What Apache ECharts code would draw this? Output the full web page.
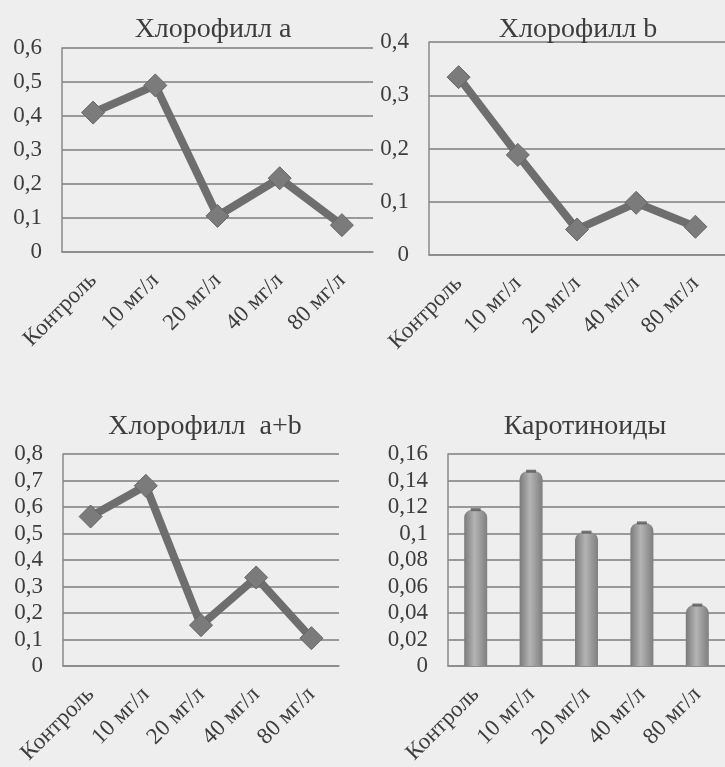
<!DOCTYPE html>
<html>
<head>
<meta charset="utf-8">
<script src="https://cdn.jsdelivr.net/npm/echarts@6/dist/echarts.min.js"></script>
<style>
html,body{margin:0;padding:0;background:#eeeeee;}
#c{width:725px;height:767px;}
</style>
</head>
<body>
<div id="c"></div>
<script>
var categories = ['Контроль', '10 мг/л', '20 мг/л', '40 мг/л', '80 мг/л'];
var chlA = [0.41, 0.49, 0.106, 0.217, 0.079];
var chlB = [0.334, 0.188, 0.048, 0.098, 0.053];
var chlAB = [0.564, 0.68, 0.154, 0.334, 0.105];
var carot = [0.118, 0.147, 0.101, 0.108, 0.046];
var titles = ['Хлорофилл a', 'Хлорофилл b', 'Хлорофилл  a+b', 'Каротиноиды'];

var FONT = '"Liberation Serif", "DejaVu Serif", serif';
var TXT = '#3d3d3d';
function fmt(v) { return String(+v.toFixed(2)).replace('.', ','); }

var grids = [
  {left: 62, top: 48, width: 311, height: 204},
  {left: 429, top: 42, width: 302, height: 213},
  {left: 63, top: 454, width: 276, height: 213},
  {left: 448, top: 454, width: 281, height: 214}
];
var yCfg = [
  {max: 0.6, interval: 0.1},
  {max: 0.4, interval: 0.1},
  {max: 0.8, interval: 0.1},
  {max: 0.16, interval: 0.02}
];
var titlePos = [[208, 11], [573, 11], [200, 408], [580, 408]];

var xAxes = [], yAxes = [], titleArr = [];
for (var i = 0; i < 4; i++) {
  xAxes.push({
    type: 'category', gridIndex: i, data: categories, boundaryGap: true,
    axisTick: {show: false},
    axisLine: {lineStyle: {color: '#8a8a8a', width: 1.5}},
    axisLabel: {rotate: 45, interval: 0, margin: 25, color: TXT, fontFamily: FONT, fontSize: 23}
  });
  yAxes.push({
    type: 'value', gridIndex: i, min: 0, max: yCfg[i].max, interval: yCfg[i].interval,
    axisLine: {show: true, lineStyle: {color: '#8a8a8a', width: 1.5}},
    axisTick: {show: false},
    splitLine: {lineStyle: {color: '#7d7d7d', width: 1.5}},
    axisLabel: {margin: 20, color: TXT, fontFamily: FONT, fontSize: 23, formatter: fmt}
  });
  titleArr.push({
    text: titles[i], left: titlePos[i][0], top: titlePos[i][1], textAlign: 'center',
    textStyle: {color: TXT, fontFamily: FONT, fontSize: 28, fontWeight: 'normal'}
  });
}

function lineSeries(idx, data) {
  return {
    type: 'line', xAxisIndex: idx, yAxisIndex: idx, data: data,
    lineStyle: {color: '#6e6e6e', width: 8},
    symbol: 'diamond', symbolSize: [23, 23],
    itemStyle: {color: '#7b7b7b', borderColor: '#666', borderWidth: 1},
    animation: false
  };
}

var option = {
  backgroundColor: '#eeeeee',
  animation: false,
  title: titleArr,
  grid: grids,
  xAxis: xAxes,
  yAxis: yAxes,
  series: [
    lineSeries(0, chlA),
    lineSeries(1, chlB),
    lineSeries(2, chlAB),
    {
      type: 'bar', xAxisIndex: 3, yAxisIndex: 3, data: carot, barWidth: 23,
      itemStyle: {
        color: new echarts.graphic.LinearGradient(0, 0, 1, 0, [
          {offset: 0, color: '#7a7a7a'},
          {offset: 0.45, color: '#b4b4b4'},
          {offset: 1, color: '#7e7e7e'}
        ]),
        borderRadius: [8, 8, 0, 0]
      }
    },
    {
      type: 'scatter', xAxisIndex: 3, yAxisIndex: 3, data: carot,
      symbol: 'rect', symbolSize: [10, 3],
      itemStyle: {color: '#555'}, z: 5
    }
  ]
};
var chart = echarts.init(document.getElementById('c'));
chart.setOption(option);
</script>
</body>
</html>
